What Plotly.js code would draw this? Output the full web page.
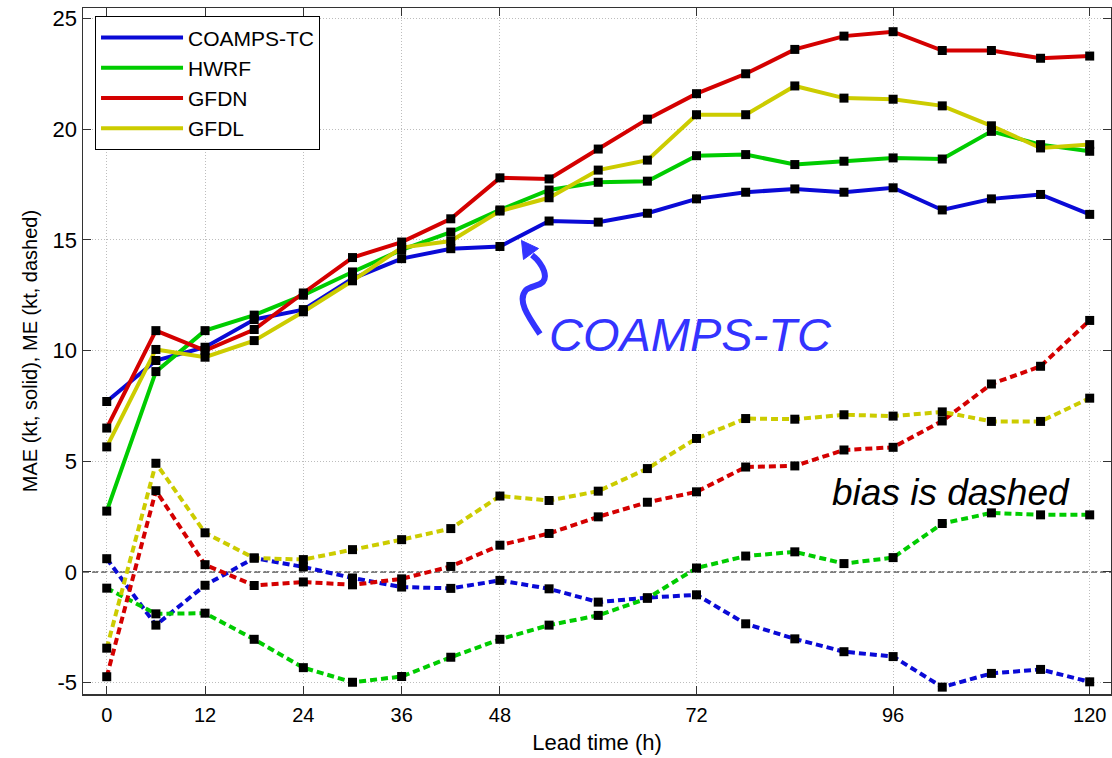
<!DOCTYPE html>
<html>
<head>
<meta charset="utf-8">
<script src="https://cdn.plot.ly/plotly-3.0.1.min.js"></script>
<style>html,body{margin:0;padding:0;background:#fff;}#chart{width:1112px;height:758px;}</style>
</head>
<body>
<div id="chart"></div>
<script>
// Lead times (h)
const hours = [0,6,12,18,24,30,36,42,48,54,60,66,72,78,84,90,96,102,108,114,120];
const models = ["COAMPS-TC","HWRF","GFDN","GFDL"];
const xTickVals = [0,12,24,36,48,72,96,120];
const yTickVals = [-5,0,5,10,15,20,25];

// Mean absolute error (solid)
const maeCOAMPS = [7.7,9.55,10.15,11.4,11.85,13.25,14.15,14.6,14.7,15.85,15.8,16.2,16.85,17.15,17.3,17.15,17.35,16.35,16.85,17.05,16.15];
const maeHWRF   = [2.75,9.05,10.9,11.6,12.5,13.55,14.55,15.35,16.35,17.25,17.6,17.65,18.8,18.85,18.4,18.55,18.7,18.65,19.9,19.3,19.0];
const maeGFDN   = [6.5,10.9,10.0,10.95,12.6,14.2,14.9,15.95,17.8,17.75,19.1,20.45,21.6,22.5,23.6,24.2,24.4,23.55,23.55,23.2,23.3];
const maeGFDL   = [5.65,10.05,9.7,10.45,11.75,13.15,14.65,14.95,16.3,16.9,18.15,18.6,20.65,20.65,21.95,21.4,21.35,21.05,20.15,19.15,19.3];

// Mean error / bias (dashed)
const meCOAMPS = [0.6,-2.4,-0.6,0.63,0.23,-0.27,-0.68,-0.74,-0.38,-0.76,-1.36,-1.16,-1.03,-2.34,-3.02,-3.6,-3.82,-5.2,-4.58,-4.4,-4.96];
const meHWRF   = [-0.73,-1.89,-1.86,-3.04,-4.32,-4.98,-4.72,-3.85,-3.04,-2.4,-1.96,-1.19,0.18,0.72,0.91,0.38,0.65,2.19,2.67,2.58,2.58];
const meGFDN   = [-4.73,3.67,0.33,-0.61,-0.45,-0.58,-0.31,0.25,1.21,1.74,2.49,3.15,3.62,4.74,4.79,5.51,5.63,6.82,8.49,9.29,11.36];
const meGFDL   = [-3.44,4.91,1.77,0.63,0.56,1.01,1.46,1.96,3.43,3.23,3.65,4.67,6.03,6.93,6.9,7.1,7.04,7.23,6.8,6.8,7.85];

const colors = ["#0a0ad6","#00cc00","#d40000","#cccc00"];
const maeAll = [maeCOAMPS, maeHWRF, maeGFDN, maeGFDL];
const meAll = [meCOAMPS, meHWRF, meGFDN, meGFDL];

const FONT = "Liberation Sans, Arial, sans-serif";
const W = 1112, H = 758;
const M = {l:83, r:1, t:8, b:64};
const xr = [-2.9, 122.6], yr = [-5.51, 25.47];

// pixel -> data helpers for annotation decoration
function dx(px){ return xr[0] + (px - M.l) / (W - M.l - M.r) * (xr[1]-xr[0]); }
function dy(py){ return yr[1] - (py - M.t) / (H - M.t - M.b) * (yr[1]-yr[0]); }
function P(px,py){ return dx(px).toFixed(4) + "," + dy(py).toFixed(4); }

const traces = [];
// dashed ME lines
meAll.forEach((s,i)=>{
  traces.push({x:hours, y:s, mode:"lines", type:"scatter", showlegend:false,
    line:{color:colors[i], width:4, dash:"7px,4px"}, hoverinfo:"skip"});
});
// solid MAE lines
maeAll.forEach((s,i)=>{
  traces.push({x:hours, y:s, mode:"lines", type:"scatter", name:models[i],
    line:{color:colors[i], width:4}});
});
// markers on top
maeAll.concat(meAll).forEach((s)=>{
  traces.push({x:hours, y:s, mode:"markers", type:"scatter", showlegend:false,
    marker:{symbol:"square", size:9, color:"#000"}, hoverinfo:"skip"});
});

const arrowPath = "M" + P(540,334) + " C" + P(527,315) + " " + P(517,300) + " " + P(526,290) +
  " C" + P(533,284) + " " + P(549,287) + " " + P(544,271) + " C" + P(541,263) + " " + P(537,259) + " " + P(532,255);
const headPath = "M" + P(521.5,240.5) + " L" + P(538.5,248.5) + " L" + P(523.5,259.5) + " Z";

const layout = {
  width: W, height: H,
  margin: M,
  paper_bgcolor: "#fff", plot_bgcolor: "#fff",
  font: {family: FONT, color: "#000", size: 20},
  showlegend: true,
  legend: {x: 0.0117, y: 0.988, xanchor: "left", yanchor: "top",
    bgcolor: "#fff", bordercolor: "#000", borderwidth: 1,
    font: {family: FONT, size: 21, color: "#000"}, itemwidth: 82, tracegroupgap: 0},
  xaxis: {range: xr, tickmode: "array", tickvals: xTickVals, ticktext: xTickVals.map(String),
    ticks: "inside", ticklen: 8, tickcolor: "#333", tickwidth: 1,
    showline: true, linecolor: "#333", linewidth: 1.5, mirror: "ticks",
    showgrid: true, gridcolor: "#bdbdbd", griddash: "1px,2px", gridwidth: 1, zeroline: false,
    tickfont: {family: FONT, size: 20, color: "#000"}, ticklabelstandoff: 2,
    title: {text: "Lead time (h)", font: {family: FONT, size: 22, color: "#000"}, standoff: 10}},
  yaxis: {range: yr, tickmode: "array", tickvals: yTickVals, ticktext: yTickVals.map(String),
    ticks: "inside", ticklen: 8, tickcolor: "#333", tickwidth: 1,
    showline: true, linecolor: "#333", linewidth: 1.5, mirror: "ticks",
    showgrid: true, gridcolor: "#bdbdbd", griddash: "1px,2px", gridwidth: 1, zeroline: false,
    tickfont: {family: FONT, size: 22, color: "#000"},
    title: {text: "MAE (kt, solid), ME (kt, dashed)", font: {family: FONT, size: 20, color: "#000"}, standoff: 9}},
  shapes: [
    {type: "line", xref: "paper", x0: 0, x1: 1, yref: "y", y0: 0, y1: 0,
      line: {color: "#555", width: 1.5, dash: "6px,3px"}, layer: "below"},
    {type: "path", xref: "x", yref: "y", path: arrowPath, line: {color: "#3333ff", width: 6}},
    {type: "path", xref: "x", yref: "y", path: headPath, line: {color: "#3333ff", width: 1}, fillcolor: "#3333ff"}
  ],
  annotations: [
    {x: dx(690), y: dy(334), xref: "x", yref: "y", text: "<i>COAMPS-TC</i>", showarrow: false,
      font: {family: FONT, size: 47, color: "#3333ff"}},
    {x: dx(951), y: dy(492), xref: "x", yref: "y", text: "<i>bias is dashed</i>", showarrow: false,
      font: {family: FONT, size: 37, color: "#000"}}
  ]
};

Plotly.newPlot("chart", traces, layout, {displayModeBar: false, staticPlot: true});
</script>
</body>
</html>
